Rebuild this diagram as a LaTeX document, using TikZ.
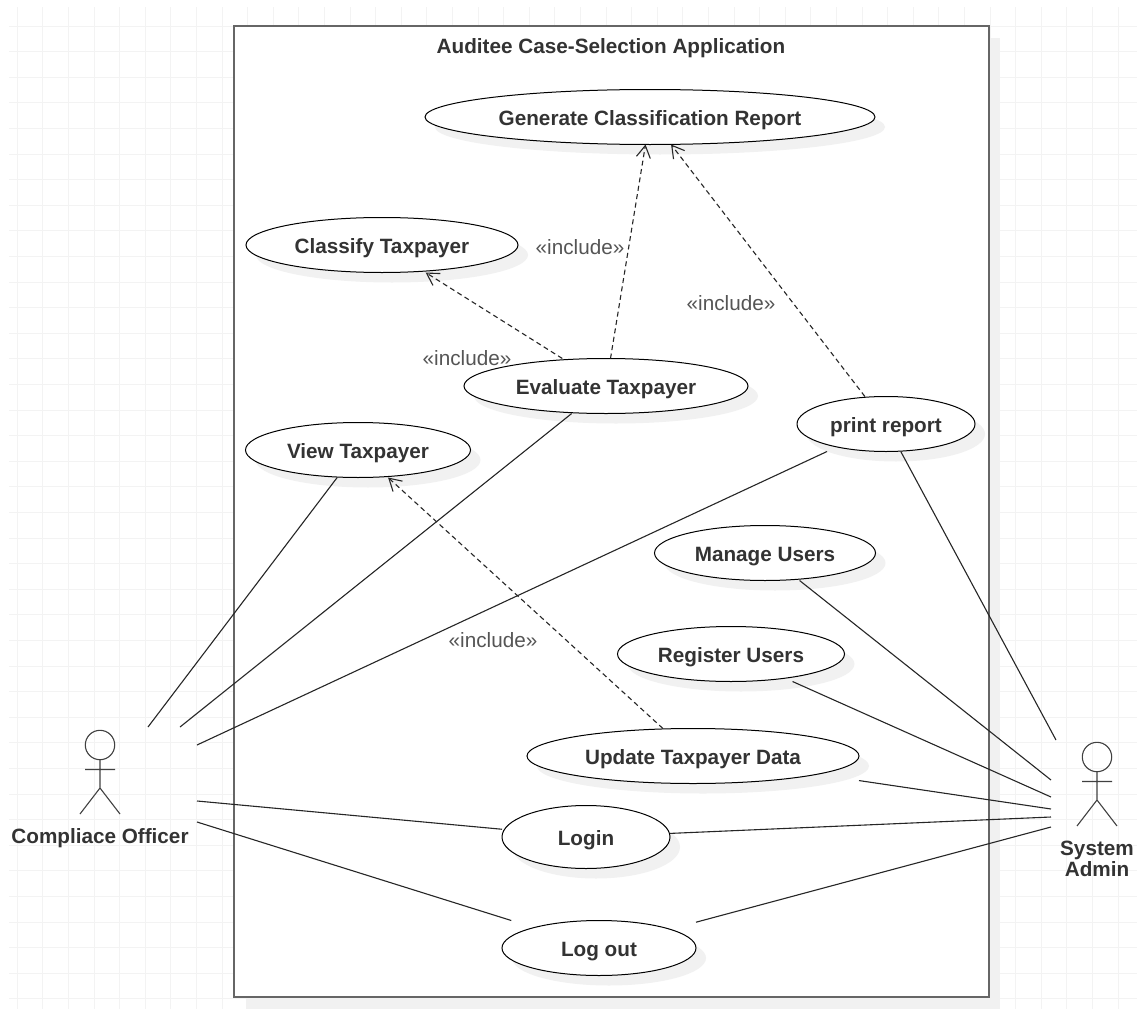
\documentclass[tikz,border=0pt]{standalone}
\usepackage{fontspec}
\setmainfont{Liberation Sans}
\usetikzlibrary{arrows.meta,shapes.geometric,shadows}
\definecolor{gridline}{RGB}{243,243,243}
\definecolor{shadowgray}{RGB}{241,241,241}
\definecolor{frameline}{RGB}{102,102,102}
\definecolor{textdark}{RGB}{51,51,51}
\definecolor{textgray}{RGB}{85,85,85}
\tikzset{
  boldtext/.style={font=\fontsize{20.7}{21}\selectfont\bfseries,text=textdark},
  usecase/.style={ellipse,draw=black,fill=white,line width=1pt,inner sep=0pt,outer sep=0pt,
    boldtext,text height=16pt,text depth=0pt,
    drop shadow={shadow xshift=10pt,shadow yshift=-10pt,fill=shadowgray,opacity=1}},
  usebox/.style={rectangle,inner sep=0pt,outer sep=0pt},
  assoc/.style={draw=black!85,line width=1.1pt},
  incl/.style={draw=black!85,line width=1.1pt,dash pattern=on 5pt off 3.5pt,
    -{Straight Barb[length=12pt,width=14pt,line width=1.1pt]}},
  stereo/.style={font=\fontsize{20.7}{21}\selectfont,text=textgray,inner sep=0pt},
  actorname/.style={boldtext,inner sep=0pt,align=center,anchor=base},
  actorfig/.pic={
    \draw[black!75,line width=1.1pt] (0,0) circle (14.7);
    \draw[black!75,line width=1.1pt] (0,14.7) -- (0,43) (-15,24.5) -- (15,24.5) (0,43) -- (-20,69) (0,43) -- (20,69);
  }
}
\begin{document}
\begin{tikzpicture}[x=1pt,y=-1pt]
\useasboundingbox (0,0) rectangle (1144,1009);
% grid
\foreach \gx in {0,...,43}
  \draw[gridline,line width=1pt] ({17.3+25.6*\gx},7) -- ({17.3+25.6*\gx},1009);
\foreach \gy in {0,...,38}
  \draw[gridline,line width=1pt] (9,{26.1+25.6*\gy}) -- (1137,{26.1+25.6*\gy});
% frame
\fill[shadowgray] (246,38) rectangle (1000,1009);
\filldraw[draw=frameline,fill=white,line width=2pt] (234,26) rectangle (989,997);
\node[boldtext,inner sep=0pt,anchor=base] (title) at (611,53) {Auditee Case-Selection Application};
% use cases
\foreach \nm/\cx/\cy/\bw/\bh/\txt in {
  generate/650/117/450/55/Generate Classification Report,
  classify/382/245/272/55/Classify Taxpayer,
  evaluate/606/386/284/55/Evaluate Taxpayer,
  view/358/450/225/55/View Taxpayer,
  print/886/424/178/55/print report,
  manage/765/553/221/55/Manage Users,
  register/731/654/227/55/Register Users,
  update/693/756/332/55/Update Taxpayer Data,
  login/586/837/168/63/Login,
  logout/599/948/194/55/Log out}{
  \node[usecase,minimum width=\bw pt,minimum height=\bh pt] (\nm) at (\cx,\cy) {\txt};
  \node[usebox,minimum width=\bw pt,minimum height=\bh pt] (\nm-box) at (\cx,\cy) {};
}
% actors
\pic at (100,745) {actorfig};
\pic at (1097,757) {actorfig};
\node[actorname] (officer) at (100,843) {Compliace Officer};
\node[actorname] (admin) at (1097,876) {System\\Admin};
% free ends at the actors
\coordinate (o1) at (148,727);
\coordinate (o2) at (180,727);
\coordinate (o3) at (197,745);
\coordinate (o4) at (197,801);
\coordinate (o5) at (197,822);
\coordinate (a1) at (1056,740);
\coordinate (a2) at (1051,780);
\coordinate (a3) at (1051,797);
\coordinate (a4) at (1051,809);
\coordinate (a5) at (1051,817);
\coordinate (a6) at (1051,827);
% associations
\draw[assoc] (view-box) -- (o1);
\draw[assoc] (evaluate-box) -- (o2);
\draw[assoc] (print-box) -- (o3);
\draw[assoc] (login-box) -- (o4);
\draw[assoc] (logout-box) -- (o5);
\draw[assoc] (print-box) -- (a1);
\draw[assoc] (manage-box) -- (a2);
\draw[assoc] (register-box) -- (a3);
\draw[assoc] (update-box) -- (a4);
\draw[assoc] (login-box) -- (a5);
\draw[assoc] (logout-box) -- (a6);
% includes
\draw[incl] (evaluate-box) -- (generate-box);
\draw[incl] (evaluate-box) -- (classify-box);
\draw[incl] (print-box) -- (generate-box);
\draw[incl] (update-box) -- (view-box);
\node[stereo] (incl1) at (580,247) {«include»};
\node[stereo] (incl2) at (467,358) {«include»};
\node[stereo] (incl3) at (731,303) {«include»};
\node[stereo] (incl4) at (493,640) {«include»};
\end{tikzpicture}
\end{document}
